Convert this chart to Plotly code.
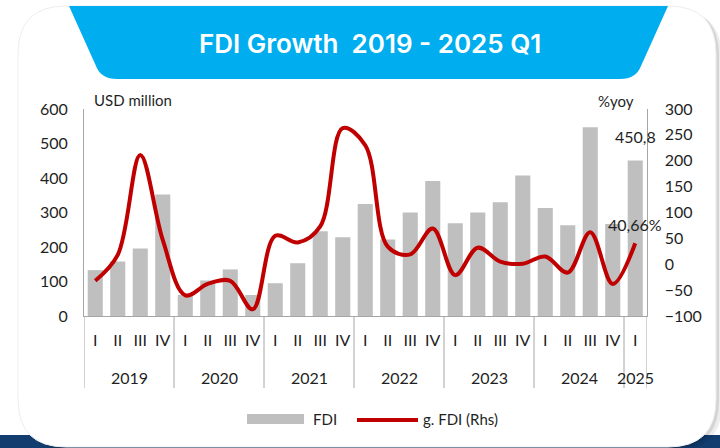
import plotly.graph_objects as go

# ---- data -------------------------------------------------------------
quarters = ["I", "II", "III", "IV"] * 6 + ["I"]
years = ["2019", "2020", "2021", "2022", "2023", "2024", "2025"]
quarters_per_year = [4, 4, 4, 4, 4, 4, 1]

# FDI, USD million
fdi = [133, 158, 196, 352,
       61, 103, 135, 61,
       95, 153, 246, 228,
       325, 222, 300, 391,
       269, 300, 330, 407,
       313, 263, 547, 267,
       450.8]

# FDI growth, % yoy (right-hand axis)
growth = [-32, 18, 211, 47,
          -60, -38, -32, -87,
          55, 42, 73, 263,
          230, 34, 19, 69,
          -21, 32, 5, 1,
          15, -16, 62, -38,
          40.66]

left_ticks = [0, 100, 200, 300, 400, 500, 600]
right_ticks = [-100, -50, 0, 50, 100, 150, 200, 250, 300]

# ---- page geometry (pixels -> paper fractions) ---------------------------
W, H = 720, 448
FONT = "Lato"
TXT = "#1f1f1f"
AXIS = "#a6a6a6"
BAR = "#bfbfbf"
LINE = "#c00000"


def px(x):
    return x / W


def py(y):
    return 1 - y / H


def path(points):
    """Build an SVG path in paper units from (cmd, x, y, ...) pixel tuples."""
    out = []
    for item in points:
        cmd = item[0]
        coords = item[1:]
        parts = []
        for i in range(0, len(coords), 2):
            parts.append(f"{px(coords[i]):.5f},{py(coords[i + 1]):.5f}")
        out.append(cmd + " ".join(parts))
    return " ".join(out) + " Z"


def card(dx=0, dy=0):
    x0, x1, y0, y1, r = 18 + dx, 716 + dx, 6 + dy, 447 + dy, 48
    return path([
        ("M", x0, y0 + r), ("Q", x0, y0, x0 + r, y0),
        ("L", x1 - r, y0), ("Q", x1, y0, x1, y0 + r),
        ("L", x1, y1 - r), ("Q", x1, y1, x1 - r, y1),
        ("L", x0 + r, y1), ("Q", x0, y1, x0, y1 - r),
    ])


banner = path([
    ("M", 69, 6), ("L", 668, 6), ("L", 641, 66),
    ("Q", 636, 79, 620, 79), ("L", 117, 79),
    ("Q", 101, 79, 96, 66),
])


def label(text, x, y, size=15, anchor="center", **kw):
    return dict(text=text, xref="paper", yref="paper", x=px(x), y=py(y),
                xanchor=anchor, yanchor="middle", showarrow=False,
                font=dict(family=kw.pop("family", FONT), size=size,
                          color=kw.pop("color", TXT), weight=kw.pop("weight", "normal")))


idx = list(range(len(quarters)))

fig = go.Figure()

fig.add_trace(go.Bar(
    x=idx, y=fdi, name="FDI", marker_color=BAR, marker_line_width=0,
    hoverinfo="skip", showlegend=False,
))
fig.add_trace(go.Scatter(
    x=idx, y=growth, name="g. FDI (Rhs)", yaxis="y2", mode="lines",
    line=dict(color=LINE, width=4, shape="spline", smoothing=1.0),
    hoverinfo="skip", showlegend=False,
))

shapes = [
    # navy strip along the bottom edge
    dict(type="rect", xref="paper", yref="paper", x0=0, x1=1,
         y0=py(448), y1=py(435), fillcolor="#123d6e", line_width=0, layer="below"),
    # soft card shadow
    dict(type="path", xref="paper", yref="paper", path=card(6, 4),
         fillcolor="rgba(0,0,0,0.07)", line_width=0, layer="below"),
    dict(type="path", xref="paper", yref="paper", path=card(3, 2),
         fillcolor="rgba(0,0,0,0.10)", line_width=0, layer="below"),
    # white card
    dict(type="path", xref="paper", yref="paper", path=card(),
         fillcolor="white", line=dict(color="#eeeeee", width=1), layer="below"),
    # title banner
    dict(type="path", xref="paper", yref="paper", path=banner,
         fillcolor="#00aeef", line_width=0, layer="below"),
]

# year group dividers under the category axis
bounds = [-0.5]
for n in quarters_per_year:
    bounds.append(bounds[-1] + n)
for b in bounds:
    shapes.append(dict(type="line", xref="x", yref="paper", x0=b, x1=b,
                       y0=py(317), y1=py(388), line=dict(color=AXIS, width=1)))

# custom legend swatches
shapes.append(dict(type="rect", xref="paper", yref="paper",
                   x0=px(247), x1=px(304), y0=py(424), y1=py(414),
                   fillcolor=BAR, line_width=0))
shapes.append(dict(type="line", xref="paper", yref="paper",
                   x0=px(357), x1=px(418), y0=py(420), y1=py(420),
                   line=dict(color=LINE, width=4)))

annotations = [
    label("FDI Growth&nbsp; 2019 - 2025 Q1", 370, 43, size=26,
          family="Inter", color="white", weight=600),
    label("USD million", 133, 100),
    label("%yoy", 616, 101),
    label("FDI", 311, 419, anchor="left"),
    label("g. FDI (Rhs)", 421, 419, anchor="left"),
    # value labels for the latest quarter
    dict(text=f"{fdi[-1]:.1f}".replace(".", ","), xref="x", yref="y",
         x=idx[-1], y=fdi[-1], yshift=24, xanchor="center", yanchor="middle",
         showarrow=False, font=dict(family=FONT, size=16, color=TXT)),
    dict(text=f"{growth[-1]:.2f}".replace(".", ",") + "%", xref="x", yref="y2",
         x=idx[-1], y=growth[-1], yshift=19, xanchor="center", yanchor="middle",
         showarrow=False, font=dict(family=FONT, size=16, color=TXT)),
]

# year labels centred under each group
for i, yr in enumerate(years):
    centre = (bounds[i] + bounds[i + 1]) / 2
    annotations.append(dict(text=yr, xref="x", yref="paper", x=centre, y=py(377),
                            xanchor="center", yanchor="middle", showarrow=False,
                            font=dict(family=FONT, size=16, color=TXT)))

fig.update_layout(
    width=W, height=H,
    margin=dict(l=0, r=0, t=0, b=0),
    paper_bgcolor="white",
    plot_bgcolor="rgba(0,0,0,0)",
    bargap=0.33,
    showlegend=False,
    shapes=shapes,
    annotations=annotations,
    font=dict(family=FONT, size=16, color=TXT),
    xaxis=dict(
        domain=[px(84), px(646.5)], range=[-0.5, len(idx) - 0.5],
        tickmode="array", tickvals=idx, ticktext=quarters,
        ticks="", showline=True, linecolor=AXIS, linewidth=1,
        showgrid=False, zeroline=False, automargin=False,
        ticklabelstandoff=10,
        tickfont=dict(family=FONT, size=16, color=TXT),
    ),
    yaxis=dict(
        domain=[py(316), py(109)], range=[0, 600],
        tickmode="array", tickvals=left_ticks,
        ticks="", showline=True, linecolor=AXIS, linewidth=1,
        showgrid=False, zeroline=False, automargin=False,
        ticklabelstandoff=12,
        tickfont=dict(family=FONT, size=16, color=TXT),
    ),
    yaxis2=dict(
        overlaying="y", side="right", anchor="x", range=[-100, 300],
        tickmode="array", tickvals=right_ticks,
        ticks="", showline=True, linecolor=AXIS, linewidth=1,
        showgrid=False, zeroline=False, automargin=False,
        ticklabelstandoff=14,
        tickfont=dict(family=FONT, size=16, color=TXT),
    ),
)

fig.write_html("out.html")
